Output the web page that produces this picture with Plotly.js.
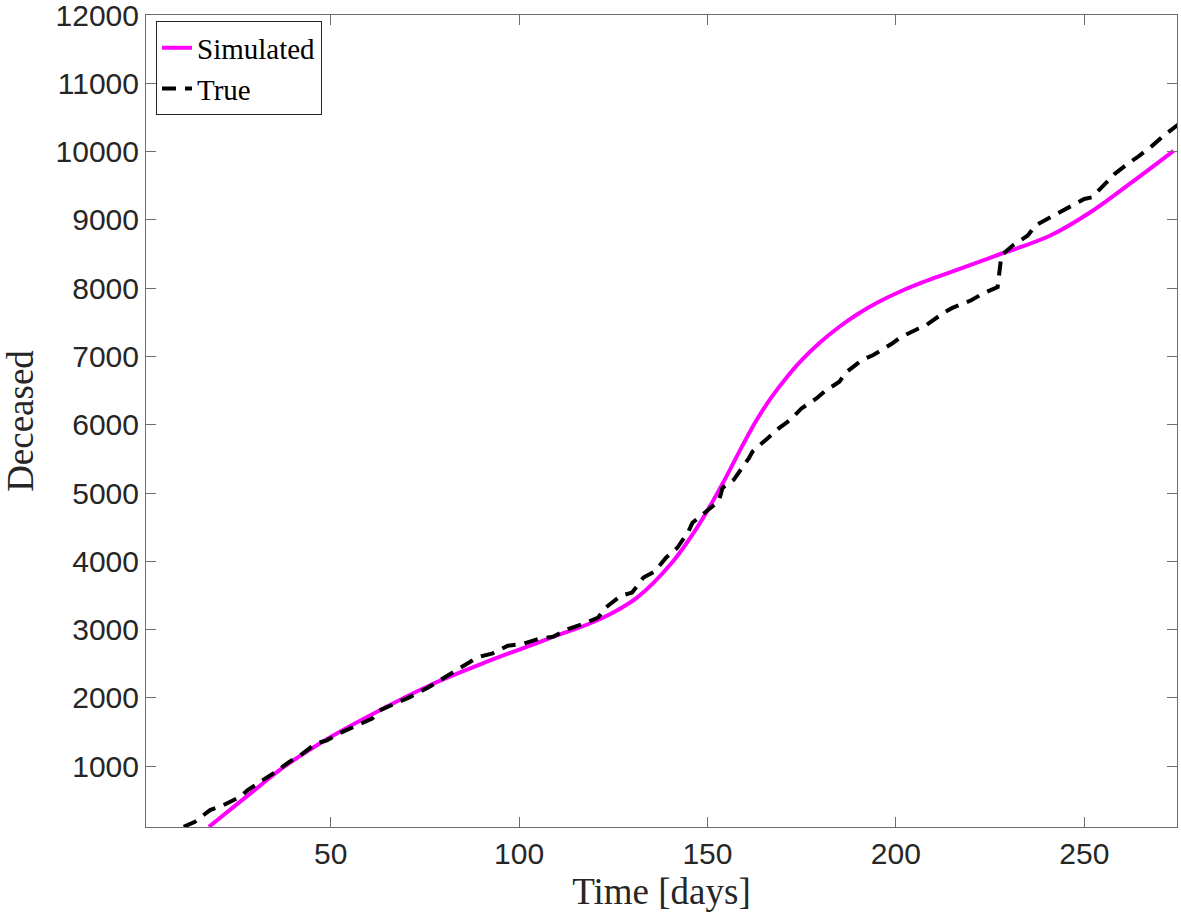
<!DOCTYPE html>
<html>
<head>
<meta charset="utf-8">
<script src="https://cdn.plot.ly/plotly-3.0.1.min.js"></script>
<style>
  html, body { margin: 0; padding: 0; background: #fff; }
  #chart { width: 1181px; height: 919px; }
</style>
</head>
<body>
<div id="chart"></div>
<script>
// simulated curve (model output)
const simDays = [17.7, 28.8, 37.6, 50, 64.1, 76.5, 91.5, 107.5, 121.7, 131.3, 140.2, 147.2,
    151, 155, 159, 163, 167, 171, 175, 180, 185, 190, 195, 201, 207, 214, 226, 241,
    251.6, 262.1, 273.7];
const simDeceased = [113, 606, 990, 1428, 1850, 2190, 2530, 2862, 3160, 3470, 3957, 4491,
    4841, 5241, 5665, 6065, 6405, 6693, 6945, 7210, 7435, 7625, 7785, 7947, 8085, 8225, 8465, 8771,
    9111, 9530, 10011];

// reported deaths
const trueDays = [11, 14, 18, 21, 26, 28, 32, 35, 39, 42, 46, 49, 53, 56, 61, 63, 68, 71, 76,
    82, 85, 89, 93, 97, 101, 105, 109, 113, 117, 121, 123, 127, 130, 133, 136, 139, 142,
    145, 146, 150, 153, 154, 157, 161, 162, 166, 169, 172, 175, 179, 181, 185, 187, 191,
    194, 199, 201, 206, 208, 213, 215, 220, 223, 227, 228, 231, 235, 237, 242, 244, 250,
    252, 256, 258, 262, 264, 268, 271, 275];
const trueDeceased = [113, 187, 358, 416, 552, 650, 796, 902, 1063, 1160, 1331, 1379, 1500,
    1573, 1696, 1817, 1938, 2011, 2157, 2352, 2449, 2595, 2653, 2765, 2790, 2863, 2896,
    3009, 3082, 3178, 3324, 3495, 3543, 3762, 3849, 4053, 4199, 4443, 4564, 4735, 4881,
    5075, 5197, 5512, 5610, 5804, 5950, 6072, 6242, 6388, 6485, 6631, 6777, 6948, 7021,
    7190, 7273, 7409, 7458, 7652, 7711, 7823, 7920, 8017, 8479, 8625, 8771, 8917, 9063,
    9136, 9306, 9330, 9549, 9670, 9841, 9914, 10084, 10230, 10400];

const xTicks = [50, 100, 150, 200, 250];
const yTicks = [1000, 2000, 3000, 4000, 5000, 6000, 7000, 8000, 9000, 10000, 11000, 12000];

const axisColour = "#6e6e6e";
const labelColour = "#262626";
const serif = '"Liberation Serif", "DejaVu Serif", serif';
const sans = '"Liberation Sans", Arial, sans-serif';

const data = [
    {
        x: simDays,
        y: simDeceased,
        name: "Simulated",
        mode: "lines",
        type: "scatter",
        line: { color: "#ff00ff", width: 4, shape: "spline", smoothing: 1 }
    },
    {
        x: trueDays,
        y: trueDeceased,
        name: "True",
        mode: "lines",
        type: "scatter",
        line: { color: "#000000", width: 4, dash: "14px,9px" }
    }
];

function axisDefaults(ticks) {
    return {
        tickmode: "array",
        tickvals: ticks,
        ticktext: ticks.map(String),
        ticks: "inside",
        ticklen: 10,
        tickwidth: 1,
        tickcolor: axisColour,
        showline: true,
        linecolor: axisColour,
        linewidth: 1,
        mirror: "ticks",
        showgrid: false,
        zeroline: false,
        ticklabeloverflow: "allow",
        tickfont: { family: sans, size: 30, color: labelColour }
    };
}

const layout = {
    width: 1181,
    height: 919,
    margin: { l: 146, r: 4, t: 15, b: 92 },
    paper_bgcolor: "#ffffff",
    plot_bgcolor: "#ffffff",
    showlegend: true,
    legend: {
        x: 0.0097,
        y: 0.992,
        xanchor: "left",
        yanchor: "top",
        bgcolor: "#ffffff",
        bordercolor: "#262626",
        borderwidth: 1,
        font: { family: serif, size: 29, color: "#000000" },
        tracegroupgap: 0
    },
    xaxis: {
        ...axisDefaults(xTicks),
        range: [1, 274.6],
        title: { text: "Time [days]", font: { family: serif, size: 37, color: labelColour }, standoff: 9 }
    },
    yaxis: {
        ...axisDefaults(yTicks),
        range: [110, 12000],
        title: { text: "Deceased", font: { family: serif, size: 37, color: labelColour }, standoff: 22 }
    }
};

Plotly.newPlot("chart", data, layout, { staticPlot: true, displayModeBar: false });
</script>
</body>
</html>
